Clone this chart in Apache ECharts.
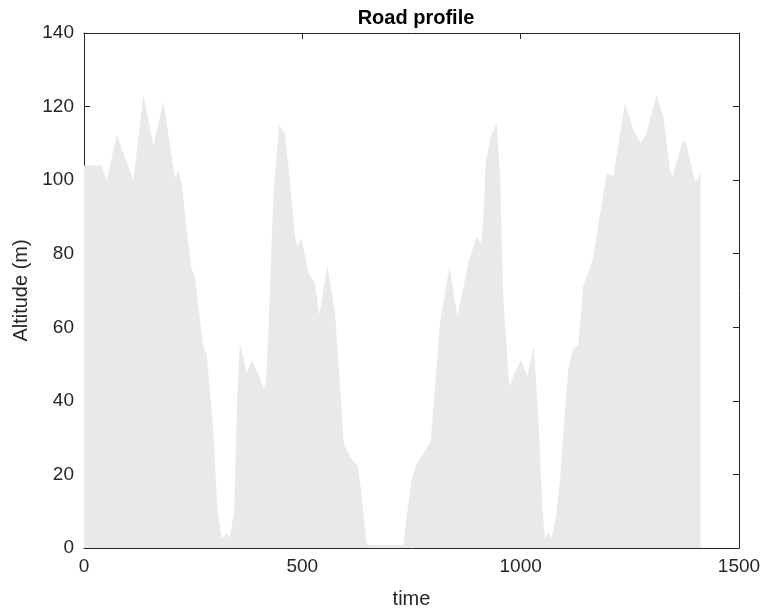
<!DOCTYPE html>
<html>
<head>
<meta charset="utf-8">
<script src="https://cdn.jsdelivr.net/npm/echarts@6/dist/echarts.min.js"></script>
<style>
  html, body { margin: 0; padding: 0; background: #fff; }
  #chart { width: 761px; height: 611px; }
</style>
</head>
<body>
<div id="chart"></div>
<script>
// road profile
const time = [0, 40, 52, 75, 98, 113, 136, 159, 182, 208, 216, 224, 235, 247, 254, 273, 281, 296, 306, 315,
  327, 334, 344, 351, 357, 373, 384, 399, 411, 417, 424, 430, 434, 447, 460, 470, 483, 489, 498, 514,
  529, 539, 557, 575, 588, 595, 609, 628, 636, 647, 655, 731, 740, 750, 762, 777, 794, 808, 815, 837,
  855, 869, 880, 899, 909, 914, 920, 931, 945, 953, 960, 974, 983, 1001, 1015, 1030, 1040, 1050, 1056, 1063,
  1071, 1081, 1090, 1101, 1109, 1119, 1132, 1143, 1157, 1165, 1182, 1197, 1212, 1239, 1258, 1275, 1288, 1311, 1327, 1342,
  1348, 1372, 1380, 1399, 1407, 1412]
const altitude = [104, 104, 100, 112.3, 105, 100, 123.1, 109.5, 121.3, 100.5, 102.7, 99.1, 86.4, 75.6, 73.7, 54.7, 52.9, 32.1, 10.3, 2.6,
  4, 2.6, 10.3, 41.1, 55.6, 47.5, 51.1, 47.5, 43.4, 45, 63.8, 83.7, 96.4, 115, 112.7, 101.8, 84.6, 81.9, 84.2, 74.7,
  71.9, 63.3, 76.9, 63.8, 41.1, 28.4, 24.8, 22.1, 13.9, 1.3, 0.8, 0.8, 9.4, 18.5, 23, 25.7, 28.9, 50.2, 61.1, 76.5,
  62.9, 71, 77.4, 84.6, 82.8, 88.3, 104.6, 111.8, 115.4, 101, 68.3, 43.8, 46.6, 51.1, 46.6, 54.7, 36.6, 10.3, 2.6, 4.4,
  2.6, 8.5, 18.5, 36.6, 48.4, 53.8, 55.2, 71, 75.6, 78.3, 91, 101.8, 101, 120.9, 113.6, 110, 112.7, 123.1, 117.2, 102.7,
  101, 110.9, 109.5, 99.6, 100.5, 102.3]

const xTicks = [0, 500, 1000, 1500]
const yTicks = [0, 20, 40, 60, 80, 100, 120, 140]

const font = 'Liberation Sans, Arial, sans-serif'
const axisColor = '#262626'

const points = time.map((t, i) => [t, altitude[i]])

const chart = echarts.init(document.getElementById('chart'))

// shared look for the box axes (matlab style, ticks inside)
const boxAxis = (extra) => Object.assign({
  type: 'value',
  axisLine: { show: true, onZero: false, lineStyle: { color: axisColor, width: 1 } },
  axisTick: { show: true, inside: true, length: 6, lineStyle: { color: axisColor } },
  splitLine: { show: false },
}, extra)

const tickLabel = (margin) => ({
  fontFamily: font, fontSize: 19, color: axisColor, margin: margin,
  formatter: v => String(v)
})

chart.setOption({
  backgroundColor: '#fff',
  animation: false,
  title: {
    text: 'Road profile',
    left: 411,
    textAlign: 'center',
    top: 3,
    textStyle: { fontFamily: font, fontSize: 20, fontWeight: 'bold', color: '#000' }
  },
  grid: { left: 84, right: 22, top: 33, bottom: 63, outerBoundsMode: 'none', containLabel: false },
  xAxis: [
    boxAxis({
      min: xTicks[0], max: xTicks[xTicks.length - 1], interval: 500,
      position: 'bottom',
      name: 'time', nameLocation: 'middle', nameGap: 41,
      nameTextStyle: { fontFamily: font, fontSize: 20, color: axisColor },
      axisLabel: tickLabel(9)
    }),
    boxAxis({
      min: xTicks[0], max: xTicks[xTicks.length - 1], interval: 500,
      position: 'top',
      axisLabel: { show: false }
    })
  ],
  yAxis: [
    boxAxis({
      min: yTicks[0], max: yTicks[yTicks.length - 1], interval: 20,
      position: 'left',
      name: 'Altitude (m)', nameLocation: 'middle', nameGap: 49, nameRotate: 90,
      nameTextStyle: { fontFamily: font, fontSize: 20, color: axisColor },
      axisLabel: tickLabel(10)
    }),
    boxAxis({
      min: yTicks[0], max: yTicks[yTicks.length - 1], interval: 20,
      position: 'right',
      axisLabel: { show: false }
    })
  ],
  series: [{
    type: 'line',
    data: points,
    showSymbol: false,
    smooth: false,
    lineStyle: { width: 0, opacity: 0 },
    areaStyle: { color: '#e9e9e9', opacity: 1 },
    silent: true
  }]
})
</script>
</body>
</html>
